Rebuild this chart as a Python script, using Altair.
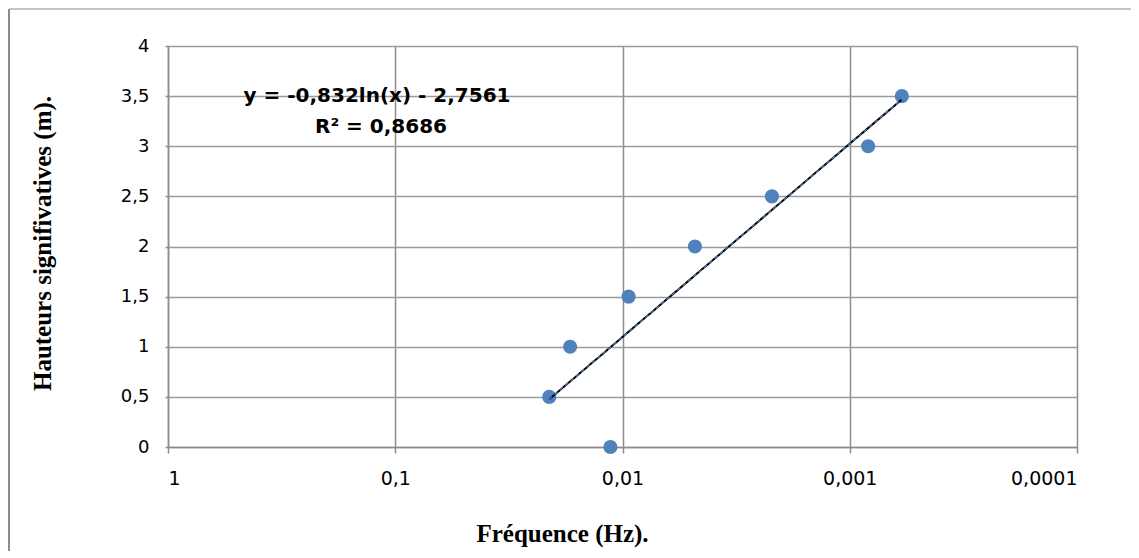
import altair as alt
import pandas as pd

# Data
freq = [0.021, 0.017, 0.0113, 0.0094, 0.0048, 0.0022, 0.00083, 0.00059]
height = [0.5, 1.0, 0.0, 1.5, 2.0, 2.5, 3.0, 3.5]
x_ticks = [1, 0.1, 0.01, 0.001, 0.0001]
y_ticks = [0, 0.5, 1, 1.5, 2, 2.5, 3, 3.5, 4]
equation_line = ["y = -0,832ln(x) - 2,7561"]
r2_line = ["R² = 0,8686"]

df = pd.DataFrame({"freq": freq, "h": height})

W, H = 909, 401
GRID = "#8c8c8c"

x_scale = alt.Scale(type="log", domain=[0.0001, 1], reverse=True)
y_scale = alt.Scale(domain=[0, 4], nice=False)

x_enc = alt.X(
    "freq:Q",
    scale=x_scale,
    axis=alt.Axis(
        values=x_ticks,
        labelExpr="replace(toString(datum.value), '.', ',')",
        title="Fréquence (Hz).",
        titleFont="Liberation Serif",
        titleFontWeight="bold",
        titleFontSize=25,
        titleColor="black",
        titleX=394,
        titleY=86,
        titleBaseline="middle",
        labelFont="DejaVu Sans",
        labelFontSize=19,
        labelColor="black",
        labelPadding=16,
        tickSize=6,
        tickColor=GRID,
        tickWidth=1.5,
        domainColor=GRID,
        domainWidth=1.5,
        gridColor=GRID,
        gridWidth=1.5,
        gridOpacity=1,
    ),
)
y_enc = alt.Y(
    "h:Q",
    scale=y_scale,
    axis=alt.Axis(
        values=y_ticks,
        labelExpr="replace(toString(datum.value), '.', ',')",
        title="Hauteurs signifivatives (m).",
        titleFont="Liberation Serif",
        titleFontWeight="bold",
        titleFontSize=25,
        titleColor="black",
        titleX=-126,
        titleY=197,
        titleBaseline="middle",
        labelFont="DejaVu Sans",
        labelFontSize=18,
        labelColor="black",
        labelPadding=16,
        tickSize=3,
        tickColor=GRID,
        tickWidth=1.5,
        domainColor=GRID,
        domainWidth=1.5,
        gridColor="#9a9a9a",
        gridWidth=1.5,
        gridOpacity=1,
    ),
)

base = alt.Chart(df)

points = base.mark_circle(size=200, color="#4F81BD", opacity=1).encode(x=x_enc, y=y_enc)

reg = base.transform_regression("freq", "h", method="log")
trend_black = reg.mark_line(color="black", strokeWidth=2).encode(
    x=alt.X("freq:Q", scale=x_scale), y=alt.Y("h:Q", scale=y_scale)
)
trend_blue = reg.mark_line(color="#4F81BD", strokeWidth=1.2, strokeDash=[4, 3]).encode(
    x=alt.X("freq:Q", scale=x_scale), y=alt.Y("h:Q", scale=y_scale)
)

eq1 = alt.Chart(pd.DataFrame({"t": equation_line})).mark_text(
    font="DejaVu Sans", fontWeight="bold", fontSize=20, color="black",
    align="center", baseline="middle",
).encode(text="t:N", x=alt.value(209), y=alt.value(50))
eq2 = alt.Chart(pd.DataFrame({"t": r2_line})).mark_text(
    font="DejaVu Sans", fontWeight="bold", fontSize=20, color="black",
    align="center", baseline="middle",
).encode(text="t:N", x=alt.value(213), y=alt.value(81))

# Outer chart frame (left and top edges visible)
frame_left = alt.Chart(pd.DataFrame({"a": [0]})).mark_rule(color="#8c8c8c", strokeWidth=2).encode(
    x=alt.value(-159), y=alt.value(-37), y2=alt.value(520)
)
frame_top = alt.Chart(pd.DataFrame({"a": [0]})).mark_rule(color="#b0b0b0", strokeWidth=1.5).encode(
    x=alt.value(-159), x2=alt.value(1000), y=alt.value(-37)
)

chart = alt.layer(frame_left, frame_top, points, trend_black, trend_blue, eq1, eq2).properties(
    width=W,
    height=H,
    padding={"left": 160, "top": 38, "right": 54, "bottom": 104},
    autosize=alt.AutoSizeParams(type="none"),
).configure_view(stroke=None).configure(background="white")

chart.save("out.html", embed_options={"renderer": "svg", "actions": False})
